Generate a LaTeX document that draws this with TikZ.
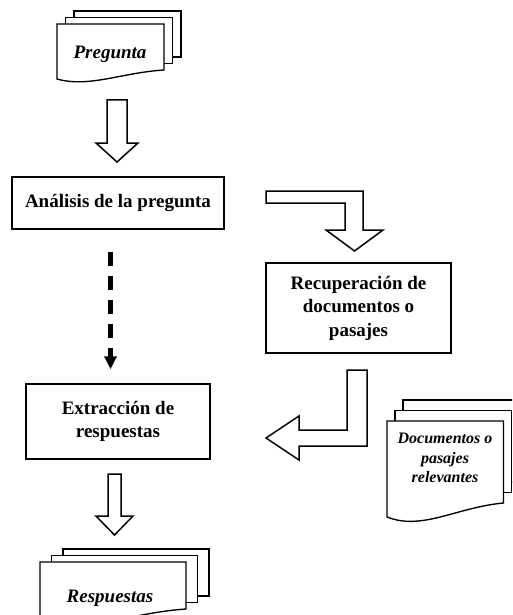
\documentclass[tikz,border=0pt]{standalone}
\usepackage{fontspec}
\setmainfont{Liberation Serif}
\usetikzlibrary{arrows.meta}

% stack of three pages: x, y (top left of front page), width,
% left height, right height, x offset, y offset
\newcommand{\pagestack}[7]{%
  \draw[page] ({#1+2*#6},{#2-2*#7}) rectangle ++(#3,#5);
  \draw[page] ({#1+#6},{#2-#7}) rectangle ++(#3,#5);
  \draw[page] (#1,{#2+#4}) -- (#1,#2) -- ({#1+#3},#2) -- ({#1+#3},{#2+#5})
    .. controls ({#1+0.6*#3},{#2+#5+0.3*(#4-#5)}) and ({#1+0.3*#3},{#2+#4+(#4-#5)}) .. (#1,{#2+#4}) -- cycle;
}

\begin{document}
\begin{tikzpicture}[
    x=1pt, y=-1pt,
    box/.style={rectangle, draw, line width=1.5pt, fill=white, align=center, inner sep=0pt,
                font=\fontsize{19}{23.5}\selectfont\bfseries},
    page/.style={draw, line width=1.35pt, fill=white},
    doctext/.style={align=center, font=\fontsize{19}{23}\selectfont\bfseries\itshape},
    hollow/.style={draw, line width=1.5pt, fill=white, line join=miter},
    dasharrow/.style={line width=5pt, dash pattern=on 14pt off 10pt, -{Triangle[length=13pt,width=12pt]}}
]
\useasboundingbox (0,0) rectangle (512,615);
\clip (0,0) rectangle (512,615);

% documents
\pagestack{57}{24}{107}{55}{46}{8.5}{6.5}
\node[doctext] (pregunta) at (110,54) {Pregunta};

\pagestack{387}{421}{116.5}{96}{82}{8}{10.5}
\node[doctext, font=\fontsize{16}{19.5}\selectfont\bfseries\itshape] (relevantes) at (445,458) {Documentos o\\pasajes\\relevantes};

\pagestack{40}{562}{146}{60}{47}{11.5}{6.5}
\node[doctext] (respuestas) at (110,598) {Respuestas};

% process boxes
\node[box, minimum width=212pt, minimum height=52pt] (analisis) at (118,203) {Análisis de la pregunta};
\node[box, minimum width=185pt, minimum height=90pt] (recuperacion) at (358.5,308) {Recuperación de\\documentos o\\pasajes};
\node[box, minimum width=184pt, minimum height=75pt] (extraccion) at (118,421.5) {Extracción de\\respuestas};

% hollow arrows
\draw[hollow] (107,100) -- (127,100) -- (127,143) -- (138,143) -- (117,162) -- (96,143) -- (107,143) -- cycle;
\draw[hollow] (266,191) -- (363,191) -- (363,230) -- (383,230) -- (354.5,251) -- (326,230) -- (345,230) -- (345,203) -- (266,203) -- cycle;
\draw[hollow] (347,370) -- (367,370) -- (367,446) -- (299,446) -- (299,460) -- (266,438) -- (299,416) -- (299,430) -- (347,430) -- cycle;
\draw[hollow] (108,474) -- (121,474) -- (121,516) -- (133,516) -- (114.5,535) -- (96,516) -- (108,516) -- cycle;

\draw[dasharrow, shorten <=22pt, shorten >=14pt] ([xshift=-7.5pt]analisis.south) -- ([xshift=-7.5pt]extraccion.north);
\end{tikzpicture}
\end{document}
